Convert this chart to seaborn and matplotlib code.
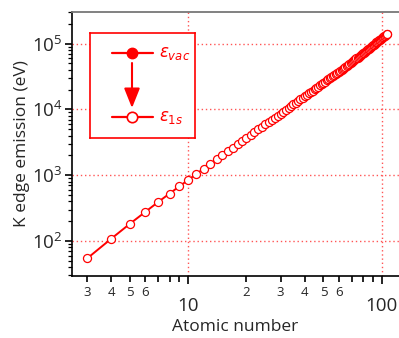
import numpy as np
import pandas as pd
import seaborn as sns
import matplotlib.pyplot as plt
from matplotlib.ticker import FixedLocator, FixedFormatter, LogLocator, NullFormatter

# K-alpha emission energies (eV), Z = 3 .. 107
atomic_number = list(range(3, 108))
emission_ev = [
    54.3, 108.5, 183.3, 277, 392.4, 524.9, 676.8, 848.6, 1041, 1253.6,
    1486.7, 1740, 2013.7, 2307.8, 2622.4, 2957.7, 3313.8, 3691.7, 4090.6, 4510.8,
    4952.2, 5414.7, 5898.8, 6403.8, 6930.3, 7478.2, 8047.8, 8638.9, 9251.7, 9886.4,
    10543.7, 11222.4, 11924.2, 12649, 13395.3, 14165, 14958.4, 15775.1, 16615.1, 17479.3,
    18367.1, 19279.2, 20216.1, 21177.1, 22162.9, 23173.6, 24209.7, 25271.3, 26359.1, 27472.3,
    28612, 29779, 30972.8, 32193.6, 33441.8, 34719.7, 36026.3, 37361, 38724.7, 40118.1,
    41542.2, 42996.2, 44481.6, 45998.4, 47546.7, 49127.7, 50741.6, 52388.9, 54069.8, 55790.2,
    57532, 59318.2, 61140.3, 63000.5, 64895.6, 66832, 68803.7, 70819, 72871.5, 74969.4,
    77107.9, 79290, 81520, 83780, 86100, 88470, 90884, 93350, 95868, 98439,
    101059, 103734, 106472, 109271, 112121, 115032, 118012, 121076, 123500, 126000,
    128500, 131000, 134000, 137500, 141500,
]

x_major = [10, 100]
x_major_labels = ['10', '100']
x_minor = [3, 4, 5, 6, 7, 8, 9, 20, 30, 40, 50, 60, 70, 80, 90]
x_minor_labels = ['3', '4', '5', '6', '', '', '', '2', '3', '4', '5', '6', '', '', '']

RED = '#ff0000'

df = pd.DataFrame({'Z': atomic_number, 'E': emission_ev})

sns.set_style('ticks')
plt.rcParams['font.family'] = ['Open Sans', 'DejaVu Sans']

fig = plt.figure(figsize=(3.99, 3.38), dpi=100)
ax = fig.add_axes([72 / 399, 62 / 338, 327 / 399, 264 / 338])

sns.lineplot(data=df, x='Z', y='E', ax=ax, color=RED, lw=1.4,
             marker='o', markersize=5.8, markerfacecolor='white',
             markeredgecolor=RED, markeredgewidth=0.9, zorder=3)

ax.set_xscale('log')
ax.set_yscale('log')
ax.set_xlim(2.506, 122.9)
ax.set_ylim(29.4, 3.01e5)

ax.xaxis.set_major_locator(FixedLocator(x_major))
ax.xaxis.set_major_formatter(FixedFormatter(x_major_labels))
ax.xaxis.set_minor_locator(FixedLocator(x_minor))
ax.xaxis.set_minor_formatter(FixedFormatter(x_minor_labels))
ax.yaxis.set_major_locator(LogLocator(base=10, numticks=10))
ax.yaxis.set_minor_locator(LogLocator(base=10, subs=np.arange(2, 10), numticks=20))
ax.yaxis.set_minor_formatter(NullFormatter())

ax.tick_params(axis='x', which='major', length=6, width=1.2, labelsize=13.5, pad=9, color='black')
ax.tick_params(axis='x', which='minor', length=4, width=1.2, labelsize=9.5, pad=3, color='black')
ax.tick_params(axis='y', which='major', length=5, width=1.2, labelsize=13.5, pad=2, color='black')
ax.tick_params(axis='y', which='minor', length=3, width=0.9, color='black')

for side in ['left', 'bottom']:
    ax.spines[side].set_color('black')
    ax.spines[side].set_linewidth(1.2)
ax.spines['top'].set_color('#777777')
ax.spines['top'].set_linewidth(1.3)
ax.spines['right'].set_visible(False)

ax.grid(True, which='major', color='#ff5555', ls=(0, (1, 2)), lw=1.0)
ax.set_axisbelow(True)

ax.set_xlabel('Atomic number', fontsize=12.5, labelpad=3)
ax.set_ylabel('K edge emission (eV)', fontsize=12.5, labelpad=1)

# level diagram inset
ins = fig.add_axes([90 / 399, 1 - 138 / 338, 105 / 399, 105 / 338])
ins.set_xlim(0, 105)
ins.set_ylim(105, 0)
ins.set_xticks([])
ins.set_yticks([])
ins.set_facecolor('white')
for s in ins.spines.values():
    s.set_color(RED)
    s.set_linewidth(1.2)

ins.plot([22, 63], [20, 20], color=RED, lw=1.6)
ins.plot([42], [20], 'o', ms=7.5, color=RED)
ins.plot([22, 63], [84, 84], color=RED, lw=1.6)
ins.plot([42], [84], 'o', ms=7.5, markerfacecolor='white', markeredgecolor=RED, markeredgewidth=1.2)
ins.annotate('', xy=(42, 75), xytext=(42, 30),
             arrowprops=dict(arrowstyle='-|>,head_length=1.0,head_width=0.4',
                             color=RED, lw=1.5, mutation_scale=12, shrinkA=0, shrinkB=0))
ins.text(69, 20, r'$\varepsilon_{vac}$', color=RED, fontsize=12, va='center', ha='left')
ins.text(69, 84, r'$\varepsilon_{1s}$', color=RED, fontsize=12, va='center', ha='left')

fig.savefig('out.png', dpi=100)
